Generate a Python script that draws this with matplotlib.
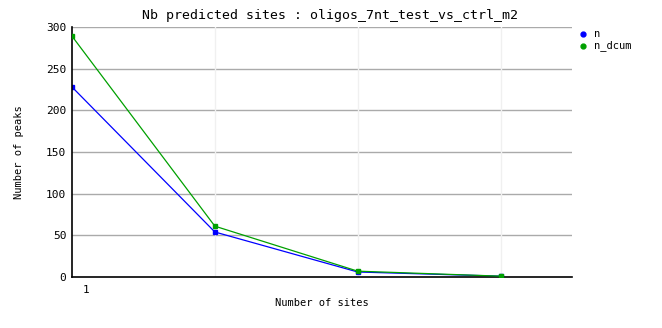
import matplotlib
matplotlib.use('Agg')
from matplotlib import pyplot as plt
from matplotlib import transforms
import numpy as np

# data
sites = [1, 2, 3, 4]
n = [228, 54, 6, 1]
n_dcum = [289, 61, 7, 1]
yticks = [0, 50, 100, 150, 200, 250, 300]

title = 'Nb predicted sites : oligos_7nt_test_vs_ctrl_m2'
font = 'DejaVu Sans Mono'

fig = plt.figure(figsize=(6.62, 3.28), dpi=100)
ax = fig.add_axes([72/662, 51/328, 500/662, 250/328])

# grid
for y in yticks[1:]:
    ax.axhline(y, color='#aaaaaa', linewidth=1, zorder=0)
for x in sites[1:]:
    ax.axvline(x, color='#f0f0f0', linewidth=1, zorder=0)

ax.plot(sites, n_dcum, color='#00a000', linewidth=0.9, marker='s', markersize=2.5, zorder=3)
ax.plot(sites, n, color='#0000ff', linewidth=0.9, marker='s', markersize=2.5, zorder=2)

ax.set_xlim(1, 4.5)
ax.set_ylim(0, 300)

for s in ['top', 'right']:
    ax.spines[s].set_visible(False)
for s in ['left', 'bottom']:
    ax.spines[s].set_linewidth(1.2)
    ax.spines[s].set_color('black')

ax.set_yticks(yticks)
ax.set_yticklabels([str(v) for v in yticks], fontfamily=font, fontsize=8)
ax.tick_params(axis='y', length=0, pad=4)
ax.set_xticks([1])
ax.set_xticklabels(['1'], fontfamily=font, fontsize=8)
ax.tick_params(axis='x', length=0, pad=6)
off = transforms.ScaledTranslation(14/100, 0, fig.dpi_scale_trans)
for lbl in ax.get_xticklabels():
    lbl.set_transform(lbl.get_transform() + off)

ax.set_xlabel('Number of sites', fontfamily=font, fontsize=7.5, labelpad=2)
ax.set_ylabel('Number of peaks', fontfamily=font, fontsize=7.5, labelpad=16)
fig.text(0.5 * (143 + 518) / 662, 1 - 15/328, title, fontfamily=font, fontsize=9.5,
         ha='center', va='center')

# legend
for i, (lab, col) in enumerate([('n', '#0000ff'), ('n_dcum', '#00a000')]):
    yy = 1 - (34 + 12 * i) / 328
    fig.lines.append(plt.Line2D([583/662], [yy], marker='o', markersize=3.5,
                                color=col, transform=fig.transFigure))
    fig.text(594/662, yy, lab, fontfamily=font, fontsize=7.5, va='center')

plt.savefig('out.png', dpi=100)
